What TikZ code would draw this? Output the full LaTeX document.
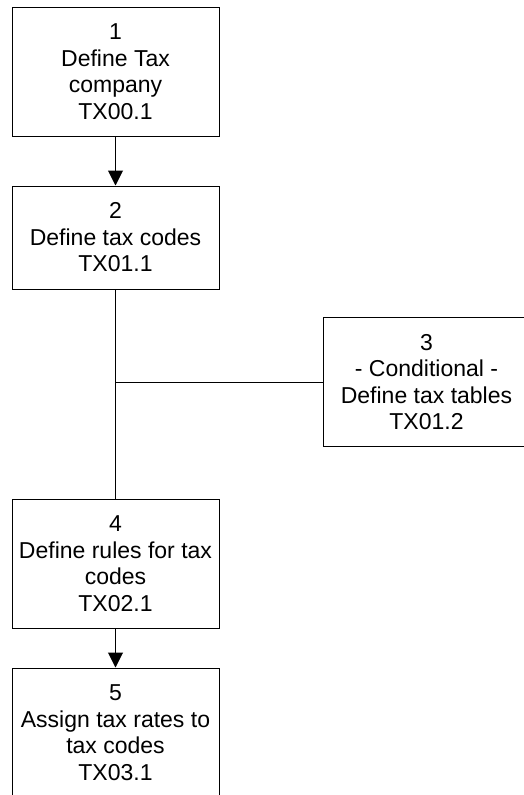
\documentclass[tikz,border=0pt]{standalone}
\usepackage{fontspec}
\setmainfont{Liberation Sans}
\usetikzlibrary{arrows.meta}

\begin{document}
\begin{tikzpicture}[
    x=1pt, y=-1pt,
    stepbox/.style={draw, line width=1pt, minimum width=207pt, minimum height=129pt, align=center, font=\fontsize{23}{26.5}\selectfont, inner sep=0pt},
    link/.style={line width=1pt},
    flow/.style={line width=1pt, -{Triangle[length=15pt, width=15pt]}}
  ]
    \path[use as bounding box, clip] (0,0) rectangle (524,795);
    \node[stepbox] (company) at (115.5,71.5) {1\\Define Tax\\company\\TX00.1};
    \node[stepbox, minimum height=103pt] (codes) at (115.5,237.5) {2\\Define tax codes\\TX01.1};
    \node[stepbox] (tables) at (426.5,382) {3\\- Conditional -\\Define tax tables\\TX01.2};
    \node[stepbox] (rules) at (115.5,563.5) {4\\Define rules for tax\\codes\\TX02.1};
    \node[stepbox] (rates) at (115.5,732.5) {5\\Assign tax rates to\\tax codes\\TX03.1};
    \draw[flow] (company) -- (codes);
    \draw[link] (codes) -- (rules);
    \draw[link] (tables.west) -- (tables.west -| codes.south);
    \draw[flow] (rules) -- (rates);
  \end{tikzpicture}
\end{document}
